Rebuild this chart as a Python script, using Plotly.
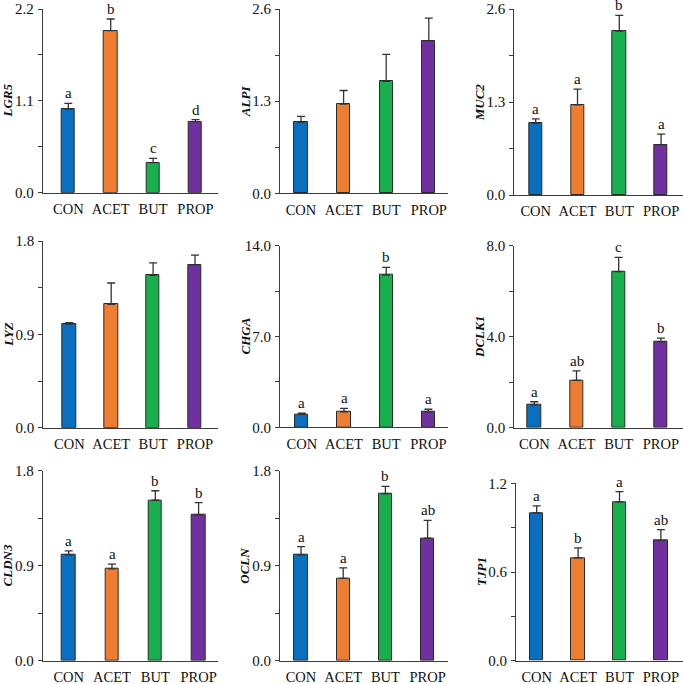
import plotly.graph_objects as go

# ---------------- data ----------------
categories = ["CON", "ACET", "BUT", "PROP"]
genes = ["LGR5", "ALPI", "MUC2", "LYZ", "CHGA", "DCLK1", "CLDN3", "OCLN", "TJP1"]

lgr5_mean = [1.00, 1.94, 0.36, 0.85]
lgr5_sem = [0.07, 0.14, 0.05, 0.025]
lgr5_letters = ["a", "b", "c", "d"]

alpi_mean = [1.00, 1.26, 1.58, 2.15]
alpi_sem = [0.085, 0.19, 0.38, 0.32]
alpi_letters = ["", "", "", ""]

muc2_mean = [1.00, 1.26, 2.29, 0.70]
muc2_sem = [0.065, 0.22, 0.22, 0.15]
muc2_letters = ["a", "a", "b", "a"]

lyz_mean = [1.00, 1.19, 1.47, 1.57]
lyz_sem = [0.013, 0.205, 0.12, 0.093]
lyz_letters = ["", "", "", ""]

chga_mean = [1.00, 1.20, 11.73, 1.20]
chga_sem = [0.10, 0.26, 0.60, 0.19]
chga_letters = ["a", "a", "b", "a"]

dclk1_mean = [1.00, 2.08, 6.86, 3.77]
dclk1_sem = [0.14, 0.42, 0.63, 0.17]
dclk1_letters = ["a", "ab", "c", "b"]

cldn3_mean = [1.00, 0.87, 1.52, 1.38]
cldn3_sem = [0.04, 0.045, 0.09, 0.117]
cldn3_letters = ["a", "a", "b", "b"]

ocln_mean = [1.00, 0.78, 1.58, 1.16]
ocln_sem = [0.08, 0.10, 0.072, 0.17]
ocln_letters = ["a", "a", "b", "ab"]

tjp1_mean = [1.00, 0.695, 1.074, 0.812]
tjp1_sem = [0.047, 0.068, 0.07, 0.074]
tjp1_letters = ["a", "b", "a", "ab"]

y_max = [2.2, 2.6, 2.6, 1.8, 14.0, 8.0, 1.8, 1.8, 1.2]

means = [lgr5_mean, alpi_mean, muc2_mean, lyz_mean, chga_mean, dclk1_mean,
         cldn3_mean, ocln_mean, tjp1_mean]
sems = [lgr5_sem, alpi_sem, muc2_sem, lyz_sem, chga_sem, dclk1_sem,
        cldn3_sem, ocln_sem, tjp1_sem]
letters = [lgr5_letters, alpi_letters, muc2_letters, lyz_letters, chga_letters,
           dclk1_letters, cldn3_letters, ocln_letters, tjp1_letters]

# ---------------- layout / style (pixels) ----------------
W, H = 683, 684
# (x_left, x_right, y_top, y_bottom, first_bar_center, bar_spacing)
panels_px = [
    (42.7, 218.3, 9.0, 192.7, 68.3, 42.4),
    (280.0, 448.3, 9.0, 193.3, 301.0, 42.6),
    (514.3, 682.5, 9.0, 195.0, 535.7, 41.8),
    (43.3, 218.3, 241.0, 427.7, 69.3, 41.9),
    (280.0, 448.3, 245.7, 427.3, 301.8, 42.2),
    (514.3, 682.5, 245.7, 427.7, 534.3, 42.2),
    (42.7, 218.3, 470.7, 660.7, 68.7, 43.3),
    (280.0, 448.3, 470.7, 660.7, 301.0, 42.2),
    (516.0, 682.5, 483.3, 660.7, 536.7, 41.4),
]
bar_colors = ["#0b6fc0", "#ef7d31", "#17b04d", "#7030a0"]
line_col = "#3c3c3c"
serif = "Liberation Serif"

fig = go.Figure()
annotations = []

for k in range(9):
    xl, xr, yt, yb, c0, s = panels_px[k]
    xa = "x" if k == 0 else f"x{k+1}"
    ya = "y" if k == 0 else f"y{k+1}"
    xkey = "xaxis" if k == 0 else f"xaxis{k+1}"
    ykey = "yaxis" if k == 0 else f"yaxis{k+1}"
    ym = y_max[k]

    fig.add_trace(go.Bar(
        x=categories, y=means[k], xaxis=xa, yaxis=ya,
        width=13.3 / s,
        marker=dict(color=bar_colors, line=dict(color="#2a2a2a", width=1)),
        error_y=dict(type="data", array=sems[k], symmetric=False,
                     arrayminus=[0] * len(categories),
                     color="#333333", thickness=1.3, width=4),
        showlegend=False, hoverinfo="skip",
    ))

    lo = (xl - c0) / s
    hi = (xr - c0) / s
    fig.layout[xkey] = dict(
        domain=[xl / W, xr / W], anchor=ya, range=[lo, hi],
        showline=True, linecolor=line_col, linewidth=1,
        ticks="", showgrid=False, zeroline=False, automargin=False,
        tickfont=dict(family=serif, size=14.5, color="#111"),
        ticklabelstandoff=3, fixedrange=True,
    )
    fig.layout[ykey] = dict(
        domain=[1 - yb / H, 1 - yt / H], anchor=xa, range=[0, ym],
        showline=True, linecolor=line_col, linewidth=1,
        ticks="outside", ticklen=4, tickcolor=line_col, tickwidth=1,
        tick0=0, dtick=ym / 2, tickformat=".1f",
        minor=dict(ticks="outside", ticklen=4, tickcolor=line_col, dtick=ym / 4),
        showgrid=False, zeroline=False, automargin=False,
        tickfont=dict(family=serif, size=15, color="#111"),
        ticklabelstandoff=1, fixedrange=True,
    )

    # significance letters
    for i, cat in enumerate(categories):
        if letters[k][i]:
            annotations.append(dict(
                x=cat, y=means[k][i] + sems[k][i], xref=xa, yref=ya,
                text=letters[k][i], showarrow=False, yanchor="bottom",
                yshift=0, font=dict(family=serif, size=15, color="#111"),
            ))

    # y-axis title
    annotations.append(dict(
        x=(xl - 35) / W, y=1 - (yt + yb) / 2 / H, xref="paper", yref="paper",
        text=f"<b><i>{genes[k]}</i></b>", textangle=-90, showarrow=False,
        xanchor="center", yanchor="middle",
        font=dict(family=serif, size=13, color="#111"),
    ))

fig.update_layout(
    template="none",
    width=W, height=H, margin=dict(l=0, r=0, t=0, b=0, autoexpand=False),
    plot_bgcolor="white", paper_bgcolor="white",
    annotations=annotations, bargap=0,
)

fig.write_html("out.html", config={"displayModeBar": False},
               post_script="document.body.style.margin='0';")
